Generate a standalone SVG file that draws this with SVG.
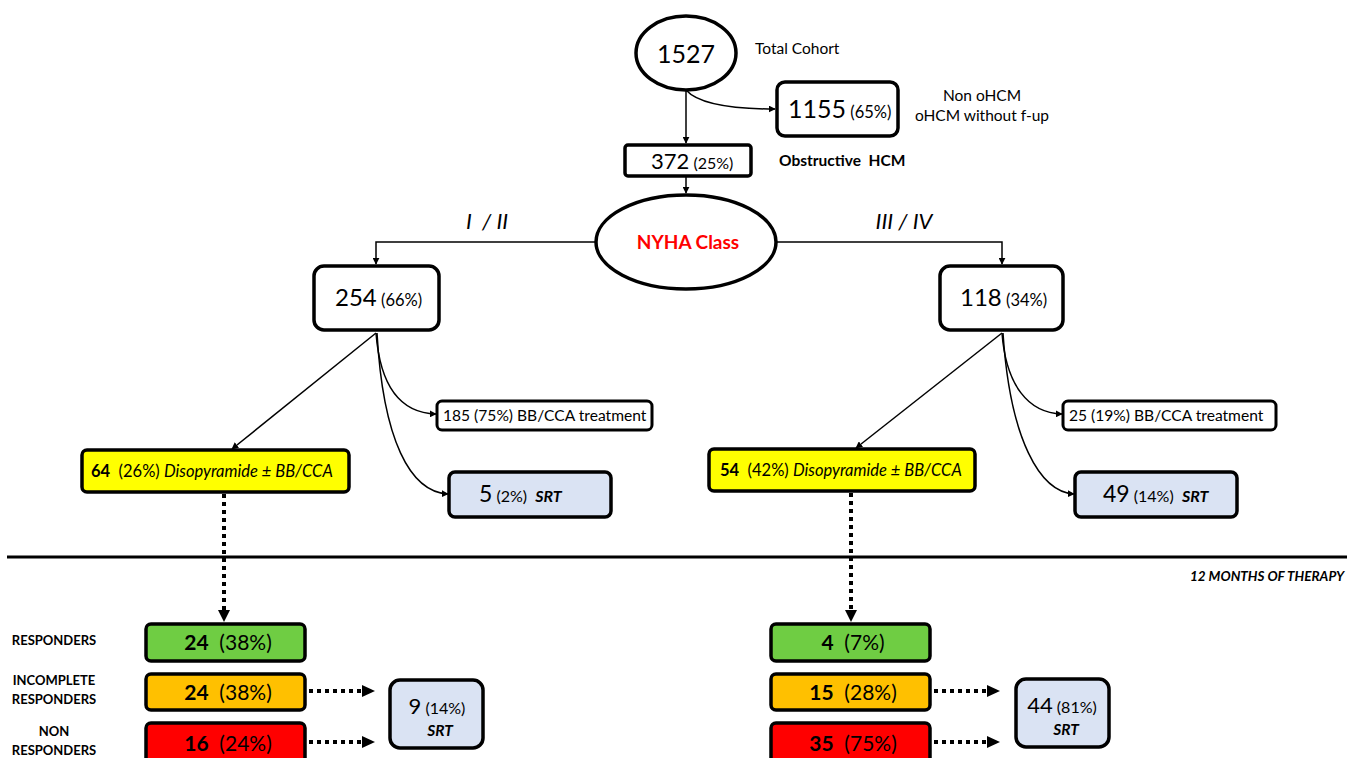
<svg xmlns="http://www.w3.org/2000/svg" width="1347" height="758" viewBox="0 0 1347 758">
<defs>
<marker id="ah" viewBox="0 0 10 10" refX="9" refY="5" markerWidth="7" markerHeight="7" markerUnits="userSpaceOnUse" orient="auto"><path d="M0,0 L10,5 L0,10 z" fill="#000"/></marker>
<style>
text{font-family:Lato,"Open Sans","Liberation Sans",sans-serif;fill:#000;white-space:pre}
.box{fill:#fff;stroke:#000;stroke-width:3.5}
.thin{stroke-width:3}
.srt{fill:#dae3f3;stroke:#000;stroke-width:3.5}
.yel{fill:#ffff00;stroke:#000;stroke-width:3.5}
.grn{fill:#6fcd43;stroke:#000;stroke-width:3.5}
.org{fill:#ffc000;stroke:#000;stroke-width:3.5}
.red{fill:#ff0000;stroke:#000;stroke-width:3.5}
.ln{fill:none;stroke:#000;stroke-width:1.5}
.dot{fill:none;stroke:#000;stroke-width:4;stroke-dasharray:4 4}
.lbl{font-size:13px;font-weight:bold;text-anchor:middle}
.b{font-weight:bold}
.i{font-style:italic}
</style>
</defs>
<g id="connectors">
<path class="ln" d="M686,90 L686,143" marker-end="url(#ah)"/>
<path class="ln" d="M686,90 C700,106 740,109 775,109" marker-end="url(#ah)"/>
<path class="ln" d="M686,177 L686,193" marker-end="url(#ah)"/>
<path class="ln" d="M596,242 L376,242 L376,264" marker-end="url(#ah)"/>
<path class="ln" d="M776,242 L1002,242 L1002,264" marker-end="url(#ah)"/>
<path class="ln" d="M376,333 L232,449" marker-end="url(#ah)"/>
<path class="ln" d="M376,333 C380,385 400,413 436,414" marker-end="url(#ah)"/>
<path class="ln" d="M377,333 C383,440 410,492 448,494" marker-end="url(#ah)"/>
<path class="ln" d="M1002,333 L856,448" marker-end="url(#ah)"/>
<path class="ln" d="M1002,333 C1006,385 1028,413 1062,414" marker-end="url(#ah)"/>
<path class="ln" d="M1003,333 C1010,440 1040,492 1074,494" marker-end="url(#ah)"/>
<path class="dot" d="M224,494 L224,612"/>
<path d="M218,610 L230,610 L224,622 z" fill="#000"/>
<path class="dot" d="M851,493 L851,612"/>
<path d="M845,610 L857,610 L851,622 z" fill="#000"/>
<path class="dot" d="M309,691 L363,691"/>
<path d="M362,685 L375,691 L362,697 z" fill="#000"/>
<path class="dot" d="M309,742 L363,742"/>
<path d="M362,736 L375,742 L362,748 z" fill="#000"/>
<path class="dot" d="M934,691 L988,691"/>
<path d="M987,685 L1000,691 L987,697 z" fill="#000"/>
<path class="dot" d="M934,742 L988,742"/>
<path d="M987,736 L1000,742 L987,748 z" fill="#000"/>
</g>
<line x1="7" y1="557" x2="1347" y2="557" stroke="#000" stroke-width="3"/>
<text x="1190" y="581" font-size="13.5" class="b i">12 MONTHS OF THERAPY</text>
<g id="n1527">
<ellipse cx="686" cy="53" rx="50" ry="37" class="box"/>
<text x="686" y="63" font-size="25" text-anchor="middle">1527</text>
<text x="755" y="54" font-size="15.5">Total Cohort</text>
</g>
<g id="n1155">
<rect x="777" y="82" width="121" height="54" rx="8" class="box"/>
<text x="788" y="118"><tspan font-size="25">1155</tspan><tspan font-size="16.5"> (65%)</tspan></text>
<text x="982" y="101" font-size="15.5" text-anchor="middle">Non oHCM</text>
<text x="982" y="121" font-size="15.5" text-anchor="middle">oHCM without f-up</text>
</g>
<g id="n372">
<rect x="625" y="145" width="126" height="31" rx="3" class="box"/>
<text x="651" y="169"><tspan font-size="22">372</tspan><tspan font-size="16"> (25%)</tspan></text>
<text x="779" y="166" font-size="15.5" class="b">Obstructive  HCM</text>
</g>
<g id="nyha">
<ellipse cx="686" cy="242" rx="90" ry="47" class="box"/>
<text x="688" y="249" font-size="19" class="b" text-anchor="middle" style="fill:#ff0000">NYHA Class</text>
<text x="487" y="229" font-size="22" class="i" text-anchor="middle">I  / II</text>
<text x="904" y="229" font-size="22" class="i" text-anchor="middle">III / IV</text>
</g>
<g id="n254">
<rect x="314" y="266" width="125" height="64" rx="10" class="box"/>
<text x="335" y="306"><tspan font-size="24">254</tspan><tspan font-size="16.5"> (66%)</tspan></text>
</g>
<g id="n118">
<rect x="940" y="266" width="123" height="64" rx="10" class="box"/>
<text x="960" y="306"><tspan font-size="24">118</tspan><tspan font-size="16.5"> (34%)</tspan></text>
</g>
<g id="n185">
<rect x="437" y="401" width="215" height="29" rx="5" class="box thin"/>
<text x="443" y="421" font-size="15.6">185 (75%) BB/CCA treatment</text>
</g>
<g id="n25">
<rect x="1063" y="401" width="213" height="29" rx="5" class="box thin"/>
<text x="1069" y="421" font-size="15.6">25 (19%) BB/CCA treatment</text>
</g>
<g id="ndis1">
<rect x="82" y="450" width="267" height="42" rx="5" class="yel"/>
<text x="91" y="477" font-size="16.5"><tspan class="b">64</tspan>  (26%) <tspan class="i">Disopyramide ± BB/CCA</tspan></text>
</g>
<g id="ndis2">
<rect x="709" y="449" width="266" height="42" rx="5" class="yel"/>
<text x="720" y="476" font-size="16.5"><tspan class="b">54</tspan>  (42%) <tspan class="i">Disopyramide ± BB/CCA</tspan></text>
</g>
<g id="nsrt1">
<rect x="449" y="472" width="162" height="45" rx="6" class="srt"/>
<text x="479" y="502"><tspan font-size="23">5</tspan><tspan font-size="16"> (2%)  </tspan><tspan font-size="16" class="b i">SRT</tspan></text>
</g>
<g id="nsrt2">
<rect x="1075" y="472" width="162" height="45" rx="6" class="srt"/>
<text x="1103" y="502"><tspan font-size="23">49</tspan><tspan font-size="16"> (14%)  </tspan><tspan font-size="16" class="b i">SRT</tspan></text>
</g>
<g id="labels">
<text x="54" y="645" class="lbl">RESPONDERS</text>
<text x="54" y="685" class="lbl">INCOMPLETE</text>
<text x="54" y="704" class="lbl">RESPONDERS</text>
<text x="54" y="736" class="lbl">NON</text>
<text x="54" y="755" class="lbl">RESPONDERS</text>
</g>
<g id="g1">
<rect x="146" y="624" width="159" height="37" rx="5" class="grn"/>
<text x="228" y="650" font-size="21" text-anchor="middle"><tspan class="b">24</tspan>  (38%)</text>
</g>
<g id="o1">
<rect x="146" y="674" width="159" height="36" rx="5" class="org"/>
<text x="228" y="700" font-size="21" text-anchor="middle"><tspan class="b">24</tspan>  (38%)</text>
</g>
<g id="r1">
<rect x="146" y="723" width="159" height="40" rx="5" class="red"/>
<text x="228" y="751" font-size="21" text-anchor="middle"><tspan class="b">16</tspan>  (24%)</text>
</g>
<g id="g2">
<rect x="771" y="624" width="159" height="37" rx="5" class="grn"/>
<text x="853" y="650" font-size="21" text-anchor="middle"><tspan class="b">4</tspan>  (7%)</text>
</g>
<g id="o2">
<rect x="771" y="674" width="159" height="36" rx="5" class="org"/>
<text x="853" y="700" font-size="21" text-anchor="middle"><tspan class="b">15</tspan>  (28%)</text>
</g>
<g id="r2">
<rect x="771" y="723" width="159" height="40" rx="5" class="red"/>
<text x="853" y="751" font-size="21" text-anchor="middle"><tspan class="b">35</tspan>  (75%)</text>
</g>
<g id="nsrt3">
<rect x="390" y="680" width="93" height="68" rx="10" class="srt"/>
<text x="437" y="714" text-anchor="middle"><tspan font-size="22">9</tspan><tspan font-size="16"> (14%)</tspan></text>
<text x="440" y="736" font-size="15.5" class="b i" text-anchor="middle">SRT</text>
</g>
<g id="nsrt4">
<rect x="1016" y="679" width="93" height="68" rx="10" class="srt"/>
<text x="1062" y="713" text-anchor="middle"><tspan font-size="22">44</tspan><tspan font-size="16"> (81%)</tspan></text>
<text x="1066" y="735" font-size="15.5" class="b i" text-anchor="middle">SRT</text>
</g>
</svg>
